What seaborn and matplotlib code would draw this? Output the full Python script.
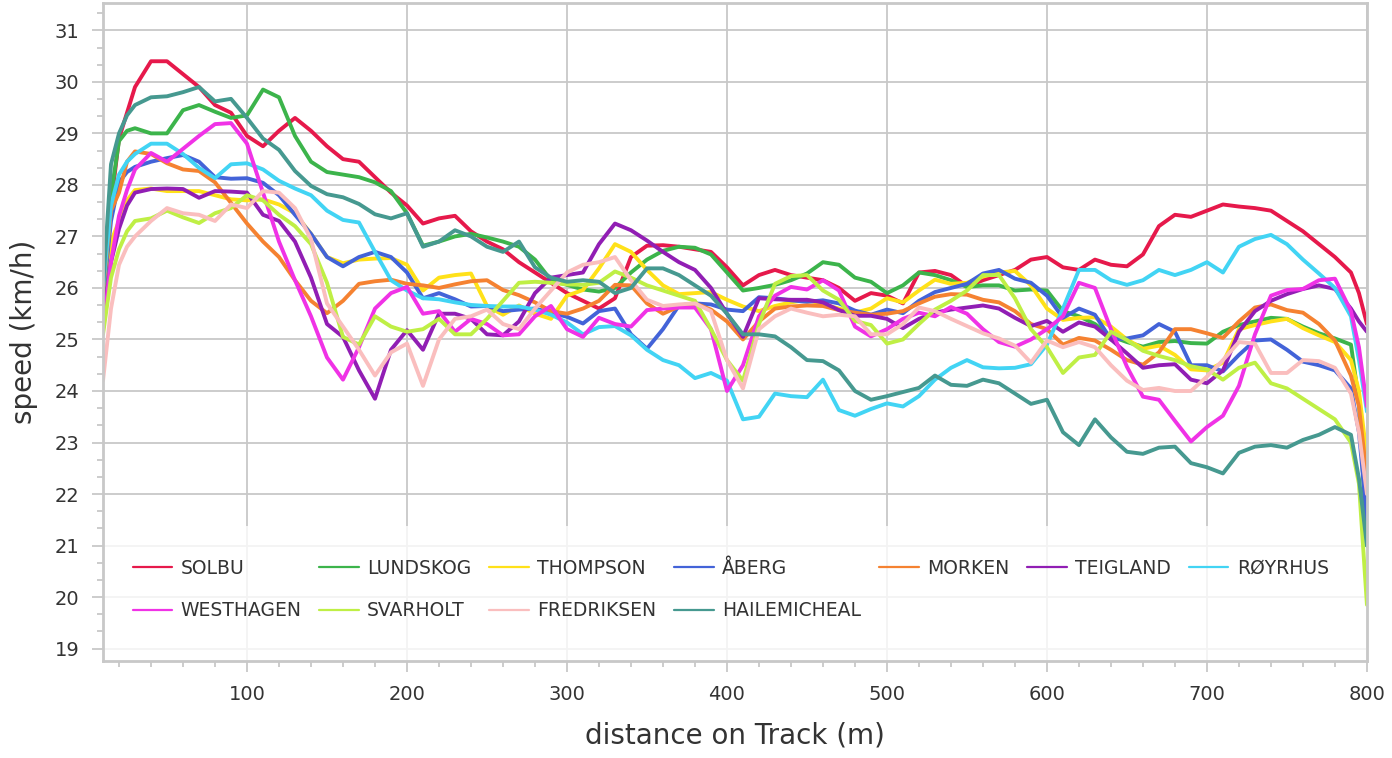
import pandas as pd
import matplotlib
matplotlib.use("Agg")
import matplotlib.pyplot as plt
from matplotlib.patches import Rectangle
from matplotlib.ticker import MultipleLocator
import seaborn as sns

# distance on track (m): finer steps at the start and at the finish
distance = [10, 15, 20, 25, 30] + list(range(40, 800, 10)) + [795, 800]

solbu = [25.6, 27.6, 28.9, 29.4, 29.9,
         30.4, 30.4, 30.15, 29.9, 29.55, 29.4, 28.95, 28.75, 29.05, 29.3,
         29.05, 28.75, 28.5, 28.45, 28.15, 27.85, 27.6, 27.25, 27.35, 27.4,
         27.1, 26.9, 26.75, 26.5, 26.3, 26.1, 25.9, 25.75, 25.6, 25.8,
         26.6, 26.82, 26.83, 26.8, 26.75, 26.7, 26.4, 26.05, 26.25, 26.35,
         26.25, 26.2, 26.15, 26.0, 25.75, 25.9, 25.85, 25.7, 26.3, 26.33,
         26.25, 26.03, 26.15, 26.25, 26.35, 26.55, 26.6, 26.4, 26.35, 26.55,
         26.45, 26.42, 26.65, 27.2, 27.42, 27.38, 27.5, 27.62, 27.58, 27.55,
         27.5, 27.3, 27.1, 26.85, 26.6, 26.3,
         25.9, 25.3]
lundskog = [25.8, 27.8, 28.85, 29.05, 29.1,
            29.0, 29.0, 29.45, 29.55, 29.42, 29.3, 29.35, 29.85, 29.7, 28.95,
            28.45, 28.25, 28.2, 28.15, 28.05, 27.88, 27.45, 26.82, 26.9, 27.0,
            27.05, 26.98, 26.9, 26.8, 26.55, 26.15, 26.06, 25.97, 25.93, 26.0,
            26.3, 26.55, 26.72, 26.8, 26.78, 26.65, 26.3, 25.95, 26.0, 26.06,
            26.15, 26.28, 26.5, 26.45, 26.2, 26.12, 25.9, 26.05, 26.3, 26.25,
            26.15, 26.02, 26.05, 26.05, 25.95, 25.97, 25.95, 25.55, 25.45, 25.3,
            25.06, 24.95, 24.86, 24.95, 24.97, 24.93, 24.92, 25.15, 25.28, 25.35,
            25.42, 25.4, 25.25, 25.12, 25.02, 24.9,
            23.8, 21.0]
thompson = [25.4, 26.9, 27.3, 27.7, 27.9,
            27.93, 27.88, 27.88, 27.88, 27.8, 27.72, 27.7, 27.72, 27.62, 27.45,
            27.05, 26.6, 26.48, 26.55, 26.57, 26.58, 26.45, 25.95, 26.2, 26.25,
            26.28, 25.65, 25.48, 25.66, 25.5, 25.4, 25.85, 25.96, 26.38, 26.85,
            26.7, 26.35, 26.05, 25.88, 25.9, 25.92, 25.77, 25.64, 25.55, 25.65,
            25.72, 25.77, 25.68, 25.6, 25.52, 25.6, 25.8, 25.72, 25.95, 26.16,
            26.08, 26.1, 26.22, 26.3, 26.33, 26.05, 25.6, 25.38, 25.42, 25.43,
            25.25, 25.0, 24.82, 24.88, 24.7, 24.42, 24.4, 24.55, 25.2, 25.28,
            25.35, 25.4, 25.22, 25.08, 24.95, 24.6,
            24.0, 22.7]
aberg = [25.8, 27.3, 28.05, 28.25, 28.35,
         28.45, 28.52, 28.58, 28.45, 28.15, 28.12, 28.13, 28.04, 27.8, 27.42,
         27.05, 26.6, 26.42, 26.6, 26.7, 26.6, 26.3, 25.8, 25.9, 25.78,
         25.64, 25.65, 25.55, 25.58, 25.6, 25.52, 25.44, 25.31, 25.55, 25.6,
         25.1, 24.82, 25.2, 25.66, 25.7, 25.68, 25.58, 25.55, 25.82, 25.8,
         25.76, 25.73, 25.76, 25.7, 25.56, 25.48, 25.58, 25.51, 25.75, 25.92,
         26.0, 26.08, 26.28, 26.35, 26.18, 26.1, 25.85, 25.42, 25.6, 25.48,
         25.0, 25.02, 25.08, 25.3, 25.15, 24.5, 24.5, 24.38, 24.7, 24.98,
         25.0, 24.8, 24.57, 24.5, 24.4, 24.05,
         23.2, 21.5]
morken = [25.9, 27.5, 27.85, 28.45, 28.65,
          28.6, 28.42, 28.3, 28.27, 28.05, 27.65, 27.25, 26.9, 26.6, 26.15,
          25.75, 25.51, 25.75, 26.08, 26.13, 26.16, 26.08, 26.05, 26.0, 26.07,
          26.13, 26.15, 25.96, 25.86, 25.72, 25.55, 25.5, 25.6, 25.75, 26.06,
          26.05, 25.7, 25.5, 25.64, 25.7, 25.58, 25.35, 25.0, 25.35, 25.6,
          25.64, 25.66, 25.65, 25.57, 25.52, 25.48, 25.5, 25.55, 25.7, 25.83,
          25.88, 25.87, 25.77, 25.72, 25.55, 25.3, 25.2, 24.9, 25.03, 24.98,
          24.8, 24.6, 24.51, 24.75, 25.2, 25.2, 25.12, 25.03, 25.35, 25.62,
          25.68, 25.57, 25.52, 25.3, 24.98, 24.3,
          23.7, 22.3]
teigland = [25.3, 26.5, 27.15, 27.6, 27.85,
            27.92, 27.93, 27.92, 27.75, 27.88, 27.87, 27.85, 27.42, 27.3, 26.9,
            26.2, 25.3, 25.05, 24.4, 23.85, 24.8, 25.18, 24.8, 25.5, 25.5,
            25.4, 25.1, 25.08, 25.35, 25.9, 26.2, 26.25, 26.3, 26.85, 27.25,
            27.12, 26.92, 26.7, 26.5, 26.35, 26.0, 25.5, 25.05, 25.8, 25.78,
            25.77, 25.77, 25.72, 25.57, 25.46, 25.46, 25.4, 25.22, 25.4, 25.52,
            25.58, 25.62, 25.66, 25.6, 25.42, 25.26, 25.36, 25.15, 25.33, 25.25,
            25.0, 24.73, 24.45, 24.5, 24.52, 24.22, 24.15, 24.4, 25.15, 25.55,
            25.75, 25.88, 25.98, 26.05, 25.98, 25.6,
            25.35, 25.15]
royrhus = [26.0, 27.6, 28.2, 28.45, 28.6,
           28.8, 28.8, 28.6, 28.33, 28.13, 28.4, 28.42, 28.3, 28.08, 27.93,
           27.8, 27.5, 27.32, 27.27, 26.7, 26.15, 25.95, 25.8, 25.78, 25.72,
           25.67, 25.65, 25.64, 25.64, 25.58, 25.48, 25.33, 25.1, 25.24, 25.26,
           25.08, 24.8, 24.6, 24.5, 24.25, 24.35, 24.2, 23.45, 23.5, 23.95,
           23.9, 23.88, 24.22, 23.63, 23.52, 23.65, 23.76, 23.7, 23.9, 24.22,
           24.45, 24.6, 24.46, 24.44, 24.45, 24.52, 24.9, 25.6, 26.35, 26.35,
           26.15, 26.06, 26.15, 26.35, 26.25, 26.35, 26.5, 26.3, 26.8, 26.95,
           27.03, 26.85, 26.55, 26.28, 26.0, 25.45,
           24.6, 23.6]
westhagen = [25.2, 26.5, 27.4, 27.9, 28.3,
             28.62, 28.45, 28.7, 28.95, 29.18, 29.2, 28.8, 27.85, 26.9, 26.15,
             25.45, 24.65, 24.22, 24.85, 25.6, 25.9, 26.02, 25.5, 25.55, 25.15,
             25.4, 25.3, 25.08, 25.1, 25.45, 25.65, 25.2, 25.05, 25.42, 25.3,
             25.25, 25.57, 25.6, 25.62, 25.62, 25.2, 24.0, 24.5, 25.45, 25.85,
             26.02, 25.97, 26.15, 25.95, 25.25, 25.06, 25.2, 25.4, 25.52, 25.45,
             25.63, 25.5, 25.2, 24.95, 24.86, 25.0, 25.2, 25.45, 26.1, 26.0,
             25.2, 24.47, 23.89, 23.83, 23.42, 23.02, 23.3, 23.52, 24.1, 25.1,
             25.85, 25.96, 25.98, 26.15, 26.18, 25.55,
             24.85, 23.7]
svarholt = [25.1, 26.2, 26.75, 27.1, 27.3,
            27.35, 27.5, 27.37, 27.26, 27.45, 27.55, 27.8, 27.7, 27.42, 27.2,
            26.85, 26.1, 25.05, 24.9, 25.45, 25.25, 25.15, 25.2, 25.4, 25.1,
            25.1, 25.4, 25.75, 26.1, 26.12, 26.1, 26.07, 26.06, 26.1, 26.32,
            26.2, 26.05, 25.95, 25.85, 25.75, 25.2, 24.6, 24.2, 25.3, 26.08,
            26.23, 26.25, 25.95, 25.77, 25.36, 25.28, 24.92, 25.0, 25.3, 25.58,
            25.75, 25.95, 26.25, 26.25, 25.8, 25.2, 24.85, 24.35, 24.65, 24.7,
            25.15, 24.99, 24.78, 24.68, 24.6, 24.48, 24.42, 24.22, 24.45, 24.55,
            24.15, 24.05, 23.85, 23.65, 23.45, 23.0,
            22.2, 19.85]
fredriksen = [24.2, 25.6, 26.45, 26.8, 27.0,
              27.3, 27.55, 27.45, 27.42, 27.3, 27.62, 27.55, 27.88, 27.85, 27.55,
              26.95, 25.7, 25.25, 24.8, 24.3, 24.75, 24.92, 24.1, 25.0, 25.4,
              25.45, 25.58, 25.3, 25.2, 25.6, 25.95, 26.3, 26.45, 26.5, 26.6,
              26.15, 25.77, 25.65, 25.68, 25.7, 25.55, 24.6, 24.05, 25.2, 25.45,
              25.6, 25.52, 25.45, 25.48, 25.45, 25.1, 25.1, 25.3, 25.62, 25.55,
              25.4, 25.26, 25.12, 25.02, 24.88, 24.55, 24.98, 24.85, 24.95, 24.85,
              24.5, 24.2, 24.02, 24.06, 24.0, 24.0, 24.28, 24.6, 24.95, 24.92,
              24.35, 24.35, 24.6, 24.58, 24.45, 23.95,
              23.2, 22.0]
hailemicheal = [26.0, 28.4, 29.0, 29.35, 29.55,
                29.7, 29.72, 29.8, 29.9, 29.62, 29.67, 29.3, 28.9, 28.68, 28.27,
                27.98, 27.82, 27.76, 27.63, 27.43, 27.35, 27.45, 26.8, 26.9, 27.12,
                27.0, 26.8, 26.7, 26.9, 26.4, 26.2, 26.12, 26.15, 26.12, 25.9,
                26.0, 26.38, 26.38, 26.25, 26.05, 25.85, 25.5, 25.1, 25.1, 25.06,
                24.85, 24.6, 24.58, 24.4, 24.0, 23.83, 23.9, 23.98, 24.06, 24.3,
                24.12, 24.1, 24.22, 24.15, 23.95, 23.75, 23.83, 23.2, 22.95, 23.45,
                23.1, 22.82, 22.78, 22.9, 22.92, 22.6, 22.52, 22.4, 22.8, 22.92,
                22.95, 22.9, 23.05, 23.15, 23.3, 23.15,
                22.3, 21.0]

runners = ["SOLBU", "LUNDSKOG", "THOMPSON", "ÅBERG", "MORKEN", "TEIGLAND",
           "RØYRHUS", "WESTHAGEN", "SVARHOLT", "FREDRIKSEN", "HAILEMICHEAL"]
speeds = [solbu, lundskog, thompson, aberg, morken, teigland,
          royrhus, westhagen, svarholt, fredriksen, hailemicheal]
colors = ["#e6194b", "#3cb44b", "#ffe119", "#4363d8", "#f58231", "#911eb4",
          "#42d4f4", "#f032e6", "#bfef45", "#fabebe", "#469990"]

sns.set_theme(style="white")
plt.rcParams["font.family"] = ["DejaVu Sans"]

frames = []
for name, values in zip(runners, speeds):
    frames.append(pd.DataFrame({"distance": distance, "speed": values, "runner": name}))
df = pd.concat(frames, ignore_index=True)

fig = plt.figure(figsize=(13.92, 7.58), dpi=100)
ax = fig.add_axes([0.074, 0.128, 0.908, 0.868])

sns.lineplot(data=df, x="distance", y="speed", hue="runner", hue_order=runners,
             palette=dict(zip(runners, colors)), estimator=None, sort=False,
             linewidth=2.8, solid_joinstyle="round", solid_capstyle="round", ax=ax)

ax.set_xlim(10, 800)
ax.set_ylim(18.76, 31.53)
ax.xaxis.set_major_locator(MultipleLocator(100))
ax.xaxis.set_minor_locator(MultipleLocator(20))
ax.yaxis.set_major_locator(MultipleLocator(1))
ax.yaxis.set_minor_locator(MultipleLocator(1 / 3))

grey = "#c8c8c8"
ax.set_axisbelow(True)
ax.grid(True, which="major", color=grey, linewidth=1.3)
for side in ax.spines.values():
    side.set_color(grey)
    side.set_linewidth(2)
ax.tick_params(which="major", length=8, width=1.3, color=grey, pad=9,
               labelsize=14, labelcolor="#333333")
ax.tick_params(which="minor", length=4, width=1.3, color=grey)
ax.tick_params(axis="both", which="both", bottom=True, left=True)

ax.set_xlabel("distance on Track (m)", fontsize=20, color="#333333", labelpad=13)
ax.set_ylabel("speed (km/h)", fontsize=20, color="#333333", labelpad=12)

# translucent band behind the legend, above the grid but below the lines
ax.add_patch(Rectangle((0, 0), 1, 0.205, transform=ax.transAxes,
                       facecolor="white", edgecolor="none", alpha=0.8, zorder=1))

handles, labels = ax.get_legend_handles_labels()
order = [0, 7, 1, 8, 2, 9, 3, 10, 4, 5, 6]  # row-major look with 7 columns
leg = ax.legend([handles[i] for i in order], [labels[i] for i in order],
                ncol=7, loc="upper left", bbox_to_anchor=(0.010, 0.181),
                frameon=False, fontsize=13.5, handlelength=2.1,
                handletextpad=0.45, columnspacing=0.96, labelspacing=1.25,
                labelcolor="#333333")
for line in leg.get_lines():
    line.set_linewidth(1.6)

fig.savefig("out.png", dpi=100, facecolor="white")
